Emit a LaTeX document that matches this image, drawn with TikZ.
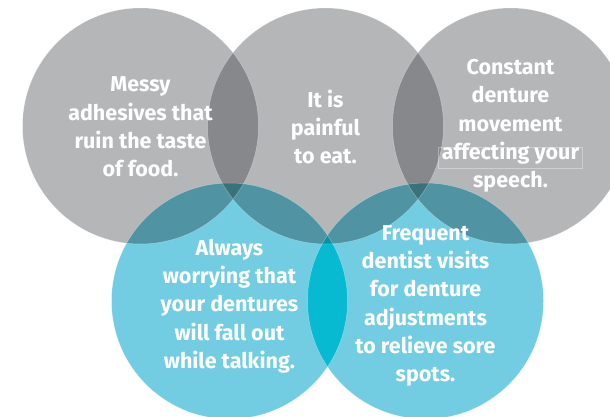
\documentclass[tikz,border=0pt]{standalone}
\usepackage{fontspec}
\setmainfont{Fira Sans}
\usepackage{xcolor}

\definecolor{ringgray}{RGB}{181,182,184}
\definecolor{lensgray}{RGB}{135,136,140}
\definecolor{ringblue}{RGB}{114,205,226}
\definecolor{lensblue}{RGB}{8,185,210}
\definecolor{grayblue}{RGB}{80,148,164}
\definecolor{darkteal}{RGB}{58,114,124}
\definecolor{deepteal}{RGB}{14,142,160}

\begin{document}
\begin{tikzpicture}[x=1pt,y=-1pt,
    bubble/.style={text=white,align=center,inner sep=0pt,
      font=\bfseries\fontsize{21.5}{28.3}\selectfont},
    rim/.style={draw=white,draw opacity=0.35,line width=0.5pt}]
    \useasboundingbox (0,0) rectangle (610,417);
    % circle centres
    \coordinate (mess) at (140.5,126);
    \coordinate (pain) at (325.5,126);
    \coordinate (move) at (510.5,126);
    \coordinate (fall) at (229.5,301);
    \coordinate (visit) at (425.5,301);

    \begin{scope}
      \clip (0,0) rectangle (610,417);
      % grey circles and their lenses
      \fill[ringgray] (mess) circle[radius=118pt] (pain) circle[radius=118pt] (move) circle[radius=118pt];
      \begin{scope}
        \clip (pain) circle[radius=118pt];
        \fill[lensgray] (mess) circle[radius=118pt] (move) circle[radius=118pt];
      \end{scope}
      % blue circles and their lens
      \fill[ringblue] (fall) circle[radius=118pt] (visit) circle[radius=118pt];
      \begin{scope}
        \clip (fall) circle[radius=118pt];
        \fill[lensblue] (visit) circle[radius=118pt];
      \end{scope}
      % grey over blue
      \foreach \g in {mess,pain,move} {
        \foreach \b in {fall,visit} {
          \begin{scope}
            \clip (\g) circle[radius=118pt];
            \fill[grayblue] (\b) circle[radius=118pt];
          \end{scope}
        }
      }
      % three at once
      \foreach \b in {fall,visit} {
        \begin{scope}
          \clip (pain) circle[radius=118pt];
          \clip (\b) circle[radius=118pt];
          \fill[darkteal] (mess) circle[radius=118pt] (move) circle[radius=118pt];
        \end{scope}
      }
      \begin{scope}
        \clip (pain) circle[radius=118pt];
        \clip (fall) circle[radius=118pt];
        \fill[deepteal] (visit) circle[radius=118pt];
      \end{scope}
      \draw[rim] (mess) circle[radius=118pt] (pain) circle[radius=118pt] (move) circle[radius=118pt]
        (fall) circle[radius=118pt] (visit) circle[radius=118pt];
    \end{scope}

    \node[bubble] (messtext) at ([yshift=-1pt]mess) {Messy\\adhesives that\\ruin the taste\\of food.};
    \node[bubble] (paintext) at ([yshift=-1pt]pain) {It is\\painful\\to eat.};
    \node[bubble] (movetext) at (mess -| move) {Constant\\denture\\movement\\affecting your\\speech.};
    \node[bubble] (falltext) at ([yshift=-5pt]fall) {Always\\worrying that\\your dentures\\will fall out\\while talking.};
    \node[bubble] (visittext) at ([yshift=-5pt]visit) {Frequent\\dentist visits\\for denture\\adjustments\\to relieve sore\\spots.};
    \draw[white,opacity=0.35,line width=0.5pt] (438,147) rectangle (582,168);
  \end{tikzpicture}
\end{document}
